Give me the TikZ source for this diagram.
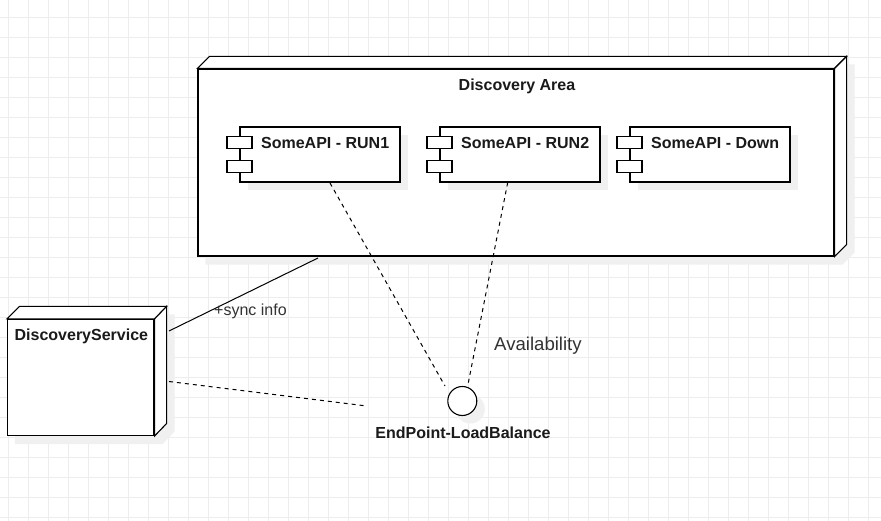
\documentclass[tikz,border=0pt]{standalone}
\usepackage{fontspec}
\setmainfont{Liberation Sans}
\usetikzlibrary{shadows}
\pgfdeclarelayer{bg}
\pgfsetlayers{bg,main}
\definecolor{gridc}{HTML}{EDEDED}
\definecolor{shadc}{HTML}{F0F0F0}
\definecolor{txtc}{HTML}{1A1A1A}
\definecolor{softc}{HTML}{333333}
\tikzset{
  gridline/.style={draw=gridc, line width=0.9pt},
  shp/.style={draw=black, line width=1.1pt, fill=white},
  shd/.style={fill=shadc, draw=none},
  dshadow/.style={drop shadow={shadow xshift=8pt, shadow yshift=-8pt, fill=shadc, opacity=1}},
  comp/.style={shp, minimum width=160pt, minimum height=55pt, inner sep=0pt, dshadow},
  lbl/.style={font=\fontsize{16}{19}\selectfont\bfseries, text=txtc, inner sep=0pt},
  plain/.style={font=\fontsize{16}{19}\selectfont, text=softc, inner sep=0pt},
  big/.style={font=\fontsize{18.6}{22}\selectfont, text=softc, inner sep=0pt},
  conn/.style={draw=black, line width=1pt},
  dconn/.style={conn, dash pattern=on 4pt off 4pt},
}
\begin{document}
\begin{tikzpicture}[x=1pt,y=-1pt]
\useasboundingbox (0,0) rectangle (881,521);
% grid
\begin{pgfonlayer}{bg}
\fill[white] (0,0) rectangle (881,521);
\foreach \i in {0,...,43} \draw[gridline] (8.3+20*\i,0) -- (8.3+20*\i,521);
\foreach \j in {0,...,25} \draw[gridline] (0,17.3+20*\j) -- (881,17.3+20*\j);
\end{pgfonlayer}

% Discovery Area node (3D box)
\node[shp, minimum width=636pt, minimum height=187pt, inner sep=0pt] (area) at (516,162.5) {};
\draw[shp] (area.north west) -- ([shift={(12,-12)}]area.north west) -- ([shift={(12,-12)}]area.north east) -- (area.north east) -- cycle;
\draw[shp] (area.north east) -- ([shift={(12,-12)}]area.north east) -- ([shift={(12,-12)}]area.south east) -- (area.south east) -- cycle;
\node[lbl] (arealbl) at (517,86.5) {Discovery Area};

% components
\node[comp] (run1) at (320,154.5) {};
\node[comp] (run2) at (520,154.5) {};
\node[comp] (down) at (710,154.5) {};
\foreach \c in {run1,run2,down} {
  \draw[shp] ([shift={(-12.5,10)}]\c.north west) rectangle ++(25,12);
  \draw[shp] ([shift={(-12.5,34)}]\c.north west) rectangle ++(25,12);
}
\node[lbl, anchor=west] (run1t) at ([shift={(21.5,17)}]run1.north west) {SomeAPI - RUN1};
\node[lbl, anchor=west] (run2t) at ([shift={(21.5,17)}]run2.north west) {SomeAPI - RUN2};
\node[lbl, anchor=west] (downt) at ([shift={(21.5,17)}]down.north west) {SomeAPI - Down};

% DiscoveryService node (3D box)
\node[shp, minimum width=146.5pt, minimum height=116pt, inner sep=0pt] (ds) at (80.75,377.5) {};
\draw[shp] (ds.north west) -- ([shift={(12.5,-12.5)}]ds.north west) -- ([shift={(12,-12.5)}]ds.north east) -- (ds.north east) -- cycle;
\draw[shp] (ds.north east) -- ([shift={(12,-12.5)}]ds.north east) -- ([shift={(12,-12.5)}]ds.south east) -- (ds.south east) -- cycle;
\node[lbl, anchor=west] (dslbl) at ([shift={(7.5,17.5)}]ds.north west) {DiscoveryService};

% interface
\node[shp, circle, minimum size=29pt, inner sep=0pt, dshadow] (ep) at (462.3,401) {};
\node[lbl] (eplbl) at (463,432.5) {EndPoint-LoadBalance};

% shadows of 3D boxes
\begin{pgfonlayer}{bg}
\fill[shd] ([shift={(8,8)}]area.north west) -- ([shift={(20,-4)}]area.north west) -- ([shift={(20,-4)}]area.north east) -- ([shift={(20,-4)}]area.south east) -- ([shift={(8,8)}]area.south east) -- ([shift={(8,8)}]area.south west) -- cycle;
\fill[shd] ([shift={(8,8)}]ds.north west) -- ([shift={(20.5,-4.5)}]ds.north west) -- ([shift={(20,-4.5)}]ds.north east) -- ([shift={(20,-4.5)}]ds.south east) -- ([shift={(8,8)}]ds.south east) -- ([shift={(8,8)}]ds.south west) -- cycle;
\end{pgfonlayer}

% connector end points
\coordinate (syncA) at (169,331);
\coordinate (syncB) at (318,258);
\coordinate (dsA) at (169,381.5);
\coordinate (dsB) at (366.7,406);
\coordinate (r1A) at (330,183);
\coordinate (r1B) at (445,386);
\coordinate (r2A) at (507.7,182.5);
\coordinate (r2B) at (467.7,386);

\draw[conn] (syncA) -- (syncB);
\draw[dconn] (dsA) -- (dsB);
\draw[dconn] (r1A) -- (r1B);
\draw[dconn] (r2A) -- (r2B);

\node[plain, anchor=west] (synclbl) at (214,311.5) {+sync info};
\node[big, anchor=west] (availlbl) at (494,346) {Availability};
\end{tikzpicture}
\end{document}
